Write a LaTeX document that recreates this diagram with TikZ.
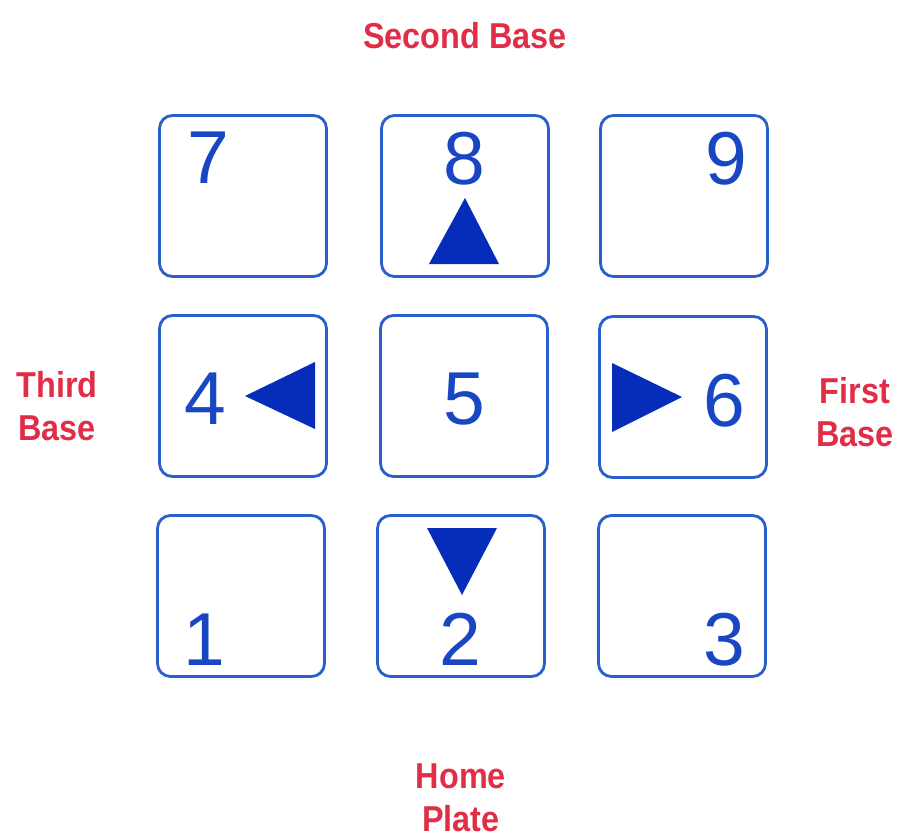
\documentclass[tikz,border=0pt]{standalone}
\usepackage{fontspec}
\setmainfont{Liberation Sans}
\newfontfamily\labfont[FakeStretch=0.9]{Liberation Sans Bold}
\definecolor{boxblue}{RGB}{40,95,205}
\definecolor{digitblue}{RGB}{25,70,195}
\definecolor{triblue}{RGB}{5,45,185}
\definecolor{basered}{RGB}{225,45,70}
\begin{document}
\begin{tikzpicture}[x=1pt,y=-1pt,
  keybox/.style={draw=boxblue,line width=2.8pt,rounded corners=13pt,minimum width=167pt,minimum height=161pt,inner sep=0pt},
  digit/.style={text=digitblue,font=\fontsize{75}{75}\selectfont,anchor=base,inner sep=0pt},
  tri/.style={fill=triblue,draw=none},
  baselab/.style={text=basered,font=\labfont\fontsize{36}{43}\selectfont,align=center,anchor=base,inner sep=0pt}]
\useasboundingbox (0,0) rectangle (903,840);
% keys
\node[keybox] (k7) at (243,196) {};
\node[keybox] (k8) at (465,196) {};
\node[keybox] (k9) at (684,196) {};
\node[keybox] (k4) at (243,396) {};
\node[keybox] (k5) at (464,396) {};
\node[keybox] (k6) at (683,397) {};
\node[keybox] (k1) at (241,596) {};
\node[keybox] (k2) at (461,596) {};
\node[keybox] (k3) at (682,596) {};
% digits
\node[digit] (d7) at (208,184) {7};
\node[digit] (d8) at (464,185) {8};
\node[digit] (d9) at (726,185) {9};
\node[digit] (d4) at (205,424) {4};
\node[digit] (d5) at (464,424) {5};
\node[digit] (d6) at (724,426) {6};
\node[digit] (d1) at (204,665) {1};
\node[digit] (d2) at (460,665) {2};
\node[digit] (d3) at (724,665) {3};
% triangles
\fill[tri] (465,198) -- (499,264) -- (429,264) -- cycle;
\fill[tri] (245,396) -- (315,362) -- (315,429) -- cycle;
\fill[tri] (682,397) -- (612,363) -- (612,432) -- cycle;
\fill[tri] (462,595) -- (427,528) -- (497,528) -- cycle;
% labels
\node[baselab] (second) at (465,49) {Second Base};
\node[baselab] (third) at (57,440) {Third\\Base};
\node[baselab] (first) at (855,446) {First\\Base};
\node[baselab] (home) at (461,831) {Home\\Plate};
\end{tikzpicture}
\end{document}
